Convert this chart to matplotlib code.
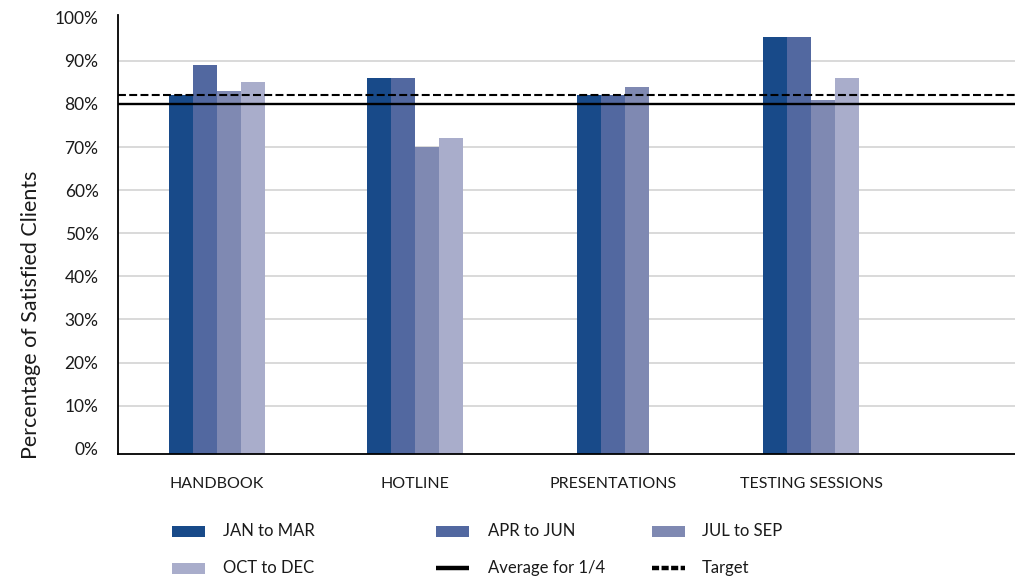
import matplotlib
matplotlib.use("Agg")
import matplotlib.pyplot as plt
from matplotlib.patches import Rectangle
from matplotlib.lines import Line2D
import numpy as np

plt.rcParams['font.family'] = ['Lato', 'DejaVu Sans']

# ---- data -------------------------------------------------------------
categories = ["HANDBOOK", "HOTLINE", "PRESENTATIONS", "TESTING SESSIONS"]
series_names = ["JAN to MAR", "APR to JUN", "JUL to SEP", "OCT to DEC"]
jan_mar = [82, 86, 82, 95.5]
apr_jun = [89, 86, 82, 95.5]
jul_sep = [83, 70, 84, 81]
oct_dec = [85, 72, None, 86]
average_value = 80
target_value = 82
y_ticks = [0, 10, 20, 30, 40, 50, 60, 70, 80, 90, 100]

series = [jan_mar, apr_jun, jul_sep, oct_dec]
colors = ["#184A89", "#5268A0", "#7F89B2", "#A9ADCB"]

# ---- figure -----------------------------------------------------------
W, H = 1015, 582
fig = plt.figure(figsize=(W / 100, H / 100), dpi=100)


def fx(px):
    return px / W


def fy(py):
    return 1 - py / H


ax = fig.add_axes([fx(118), fy(454.3), fx(1015) - fx(118), fy(15) - fy(454.3)])

y_low, y_high = -1.28, 100.65
ax.set_ylim(y_low, y_high)
ax.set_xlim(-0.5, 4.03)

bar_w = 0.1217
for ci, cat in enumerate(categories):
    present = [(si, s[ci]) for si, s in enumerate(series) if s[ci] is not None]
    n = len(present)
    for k, (si, v) in enumerate(present):
        x = ci + (k - (n - 1) / 2) * bar_w
        ax.bar(x, v - y_low, bottom=y_low, width=bar_w, color=colors[si],
               linewidth=0, zorder=2)

# grid lines (no line at the top)
for t in y_ticks[1:-1]:
    ax.axhline(t, color="#D9D9D9", linewidth=1.4, zorder=1)

ax.axhline(average_value, color="black", linewidth=1.7, zorder=3)
ax.axhline(target_value, color="black", linewidth=1.5,
           linestyle=(0, (3.8, 1.6)), zorder=3)

ax.set_yticks(y_ticks)
ax.set_yticklabels([f"{t}%" for t in y_ticks], fontsize=12.5, color="#1a1a1a")
ax.set_xticks(range(len(categories)))
ax.set_xticklabels(categories, fontsize=11.5, color="#1a1a1a")
ax.tick_params(axis="y", length=0, pad=14)
ax.tick_params(axis="x", length=0, pad=16.5)

for side in ["top", "right"]:
    ax.spines[side].set_visible(False)
for side in ["left", "bottom"]:
    ax.spines[side].set_linewidth(1.3)
    ax.spines[side].set_color("black")

fig.text(fx(31), fy(315), "Percentage of Satisfied Clients", rotation=90,
         ha="center", va="center", fontsize=15.4, color="#1a1a1a")

# ---- legend -----------------------------------------------------------
patch_w, patch_h = 33, 11
rows = [531, 568]
cols = [172, 436, 652]
text_off = [51, 52, 50]

entries = [
    (0, 0, "patch", colors[0], series_names[0]),
    (0, 1, "patch", colors[1], series_names[1]),
    (0, 2, "patch", colors[2], series_names[2]),
    (1, 0, "patch", colors[3], series_names[3]),
    (1, 1, "solid", "black", "Average for 1/4"),
    (1, 2, "dash", "black", "Target"),
]
for r, c, kind, col, label in entries:
    x0, yc = cols[c], rows[r]
    if kind == "patch":
        fig.patches.append(Rectangle((fx(x0), fy(yc + patch_h / 2)),
                                     fx(patch_w), patch_h / H,
                                     transform=fig.transFigure,
                                     facecolor=col, edgecolor="none"))
    elif kind == "solid":
        fig.lines.append(Line2D([fx(x0), fx(x0 + patch_w)], [fy(yc), fy(yc)],
                                transform=fig.transFigure, color=col,
                                linewidth=3.2, solid_capstyle="butt"))
    else:
        fig.lines.append(Line2D([fx(x0), fx(x0 + patch_w)], [fy(yc), fy(yc)],
                                transform=fig.transFigure, color=col,
                                linewidth=3.2, linestyle=(0, (1.6, 0.55)),
                                dash_capstyle="butt"))
    fig.text(fx(x0 + text_off[c]), fy(yc), label, ha="left", va="center",
             fontsize=12, color="#1a1a1a")

fig.savefig("out.png", dpi=100)
